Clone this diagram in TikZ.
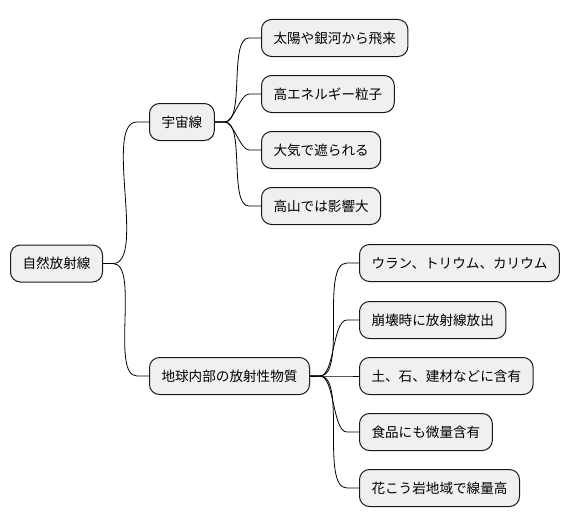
\documentclass[tikz,border=0pt]{standalone}
\usepackage{fontspec}
\setmainfont{Noto Sans CJK JP}
\begin{document}
\begin{tikzpicture}[x = 1pt, y = -1pt,
        topic/.style = {draw = black!90, fill = black!6, line width = 1pt, rounded corners = 10pt,
                minimum height = 37pt, inner xsep = 12pt, anchor = west,
                font = \fontsize{13.6}{16}\selectfont},
        branch/.style = {line width = 0.8pt}]

        \useasboundingbox (0, 0) rectangle (572, 527);

        \node [topic] (root) at (10, 263.5) {自然放射線};

        \node [topic] (cosmic) at (149, 122) {宇宙線};
        \node [topic] (earth) at (149, 376) {地球内部の放射性物質};

        \node [topic] (sun) at (261, 38) {太陽や銀河から飛来};
        \node [topic] (energy) at (261, 94) {高エネルギー粒子};
        \node [topic] (air) at (261, 150) {大気で遮られる};
        \node [topic] (mountain) at (261, 206) {高山では影響大};

        \node [topic] (uranium) at (359, 263) {ウラン、トリウム、カリウム};
        \node [topic] (decay) at (359, 320) {崩壊時に放射線放出};
        \node [topic] (soil) at (359, 376) {土、石、建材などに含有};
        \node [topic] (food) at (359, 432) {食品にも微量含有};
        \node [topic] (granite) at (359, 488) {花こう岩地域で線量高};

        \foreach \a/\b in {root/cosmic, root/earth,
                cosmic/sun, cosmic/energy, cosmic/air, cosmic/mountain,
                earth/uranium, earth/decay, earth/soil, earth/food, earth/granite} {
                \draw [branch] (\a.east) -- ++(10, 0) to [out = 0, in = 180, looseness = 0.6] ([xshift = -12pt]\b.west) -- (\b.west);
            }

    \end{tikzpicture}
\end{document}
